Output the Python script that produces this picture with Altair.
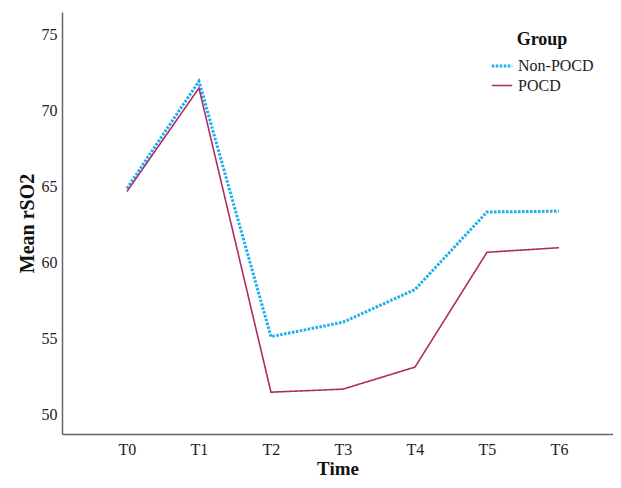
import altair as alt
import pandas as pd

times = ["T0", "T1", "T2", "T3", "T4", "T5", "T6"]
non_pocd = [64.85, 71.9, 55.1, 56.05, 58.2, 63.3, 63.35]
pocd = [64.65, 71.45, 51.45, 51.65, 53.1, 60.65, 60.95]
groups = ["Non-POCD", "POCD"]

rows = []
for t, v in zip(times, non_pocd):
    rows.append({"Time": t, "Group": "Non-POCD", "rSO2": v})
for t, v in zip(times, pocd):
    rows.append({"Time": t, "Group": "POCD", "rSO2": v})
df = pd.DataFrame(rows)

FONT = "Liberation Serif"

legend_kw = dict(title="Group", orient="none", legendX=428, legendY=19,
                 symbolType="stroke", symbolStrokeWidth=3,
                 symbolSize=420, titleAnchor="middle", rowPadding=-2,
                 titlePadding=5, labelOffset=4)

chart = alt.Chart(df).mark_line().encode(
    x=alt.X("Time:N", sort=times,
            scale=alt.Scale(type="point", padding=0.826, align=0.546),
            axis=alt.Axis(title="Time", labelAngle=0, ticks=False, grid=False,
                          labelPadding=7, titlePadding=2, titleFontSize=19,
                          domainColor="#666666", domainWidth=1.5)),
    y=alt.Y("rSO2:Q",
            scale=alt.Scale(domain=[48.7, 76.45], nice=False, zero=False),
            axis=alt.Axis(title="Mean rSO2", values=[50, 55, 60, 65, 70, 75],
                          ticks=False, grid=False, labelPadding=5, titlePadding=4,
                          domainColor="#666666", domainWidth=1.5)),
    color=alt.Color("Group:N",
                    scale=alt.Scale(domain=groups, range=["#1BAEEB", "#B02C66"]),
                    legend=alt.Legend(**legend_kw)),
    strokeDash=alt.StrokeDash("Group:N",
                              scale=alt.Scale(domain=groups, range=[[2.5, 1.5], [1, 0]]),
                              legend=alt.Legend(**legend_kw)),
    strokeWidth=alt.StrokeWidth("Group:N",
                                scale=alt.Scale(domain=groups, range=[3, 1.6]),
                                legend=None),
).properties(
    width=551, height=422,
    autosize=alt.AutoSizeParams(type="none"),
    padding={"left": 54, "top": 4, "right": 0, "bottom": 46},
).configure_view(
    strokeWidth=0
).configure_axis(
    labelFont=FONT, titleFont=FONT, labelFontSize=16, titleFontSize=20,
    labelColor="#222222", titleColor="#111111", titleFontWeight="bold"
).configure_legend(
    labelFont=FONT, titleFont=FONT, labelFontSize=16, titleFontSize=18,
    titleFontWeight="bold", labelColor="#222222", titleColor="#111111"
)

chart.save("out.html", embed_options={"renderer": "svg", "actions": False})
